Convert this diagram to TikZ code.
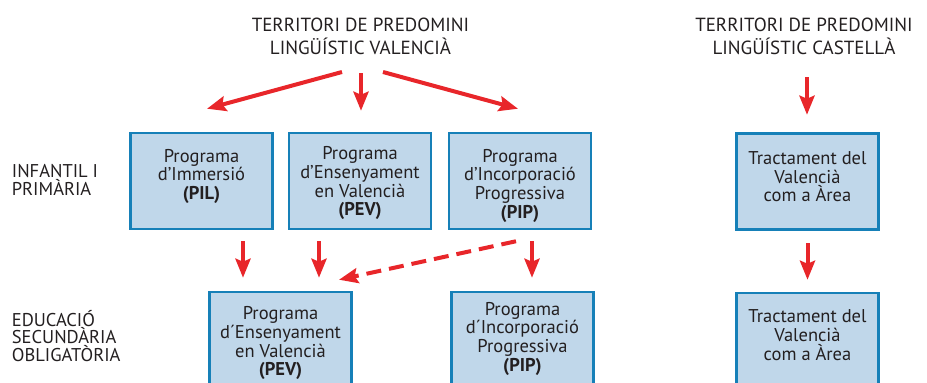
\documentclass[tikz,border=0pt]{standalone}
\usepackage{fontspec}
\setmainfont{PT Sans}
\usetikzlibrary{arrows.meta,positioning,calc}
\definecolor{vermell}{RGB}{232,38,42}
\definecolor{blaufons}{RGB}{192,215,234}
\definecolor{blauvora}{RGB}{22,128,184}
\definecolor{negre}{RGB}{35,31,32}
\newcommand{\caixatext}[2]{\parbox[c][86pt][t]{140pt}{\centering\fontsize{18.5}{18.8}\selectfont\rule{0pt}{#1}#2}}
\tikzset{
  caixa/.style={draw=blauvora,fill=blaufons,line width=2.5pt,minimum width=142pt,minimum height=96pt,inner sep=0pt,text=negre},
  titol/.style={align=center,anchor=base,text=negre,inner sep=0pt},
  etapa/.style={align=left,anchor=base west,text=negre,inner sep=0pt,font=\fontsize{18.5}{16.2}\selectfont},
  fletxa/.style={draw=vermell,line width=4pt,-{Stealth[width=15pt,length=19pt,inset=3pt]}}
}

\begin{document}
\begin{tikzpicture}[x=1pt,y=-1pt,font=\fontsize{19}{22.3}\selectfont]
\useasboundingbox (0,0) rectangle (927,383);
% titols
\node[titol] (val) at (360.5,54) {TERRITORI DE PREDOMINI\\LINGÜÍSTIC VALENCIÀ};
\node[titol] (cas) at (804,54) {TERRITORI DE PREDOMINI\\LINGÜÍSTIC CASTELLÀ};
\node[etapa] (inf) at (11.7,195) {INFANTIL I\\PRIMÀRIA};
\node[etapa] (eso) at (11.7,361) {EDUCACIÓ\\SECUNDÀRIA\\OBLIGATÒRIA};
% caixes
\node[caixa] (pil) at (201.5,181) {\caixatext{24pt}{Programa\\d’Immersió\\\textbf{(PIL)}}};
\node[caixa] (pev1) at (360,181) {\caixatext{21.5pt}{Programa\\d’Ensenyament\\en Valencià\\\textbf{(PEV)}}};
\node[caixa] (pip1) at (520,181) {\caixatext{24pt}{Programa\\d’Incorporació\\Progressiva\\\textbf{(PIP)}}};
\node[caixa] (tra1) at (807.5,181.5) {\caixatext{25.8pt}{Tractament del\\Valencià\\com a Àrea}};
\node[caixa] (pev2) at (280.5,340) {\caixatext{22.5pt}{Programa\\d´Ensenyament\\en Valencià\\\textbf{(PEV)}}};
\node[caixa] (pip2) at (522.5,340) {\caixatext{18pt}{Programa\\d´Incorporació\\Progressiva\\\textbf{(PIP)}}};
\node[caixa] (tra2) at (807.5,341) {\caixatext{24.5pt}{Tractament del\\Valencià\\com a Àrea}};
% fletxes
\draw[fletxa] ([xshift=-18.5pt,yshift=-18pt]val.base) -- ([xshift=5.5pt,yshift=23pt]pil.north);
\draw[fletxa] ([xshift=0.5pt,yshift=-19pt]val.base) -- ([xshift=1pt,yshift=21pt]pev1.north);
\draw[fletxa] ([xshift=22.5pt,yshift=-18pt]val.base) -- ([xshift=-2pt,yshift=23pt]pip1.north);
\draw[fletxa] ([xshift=41.5pt,yshift=-11pt]pil.south) -- ([xshift=-37.5pt,yshift=13pt]pev2.north);
\draw[fletxa] ([xshift=-41pt,yshift=-11pt]pev1.south) -- ([xshift=38.5pt,yshift=13pt]pev2.north);
\draw[fletxa] ([xshift=12pt,yshift=-11pt]pip1.south) -- ([xshift=9.5pt,yshift=13pt]pip2.north);
\draw[fletxa,dash pattern=on 15pt off 8pt] ([xshift=-4pt,yshift=-11pt]pip1.south) -- ([xshift=58.5pt,yshift=11pt]pev2.north);
\draw[fletxa] ([xshift=3pt,yshift=-23pt]cas.base) -- ([xshift=-0.5pt,yshift=17.5pt]tra1.north);
\draw[fletxa] ([yshift=-12.5pt]tra1.south) -- ([yshift=12pt]tra2.north);
\end{tikzpicture}
\end{document}
